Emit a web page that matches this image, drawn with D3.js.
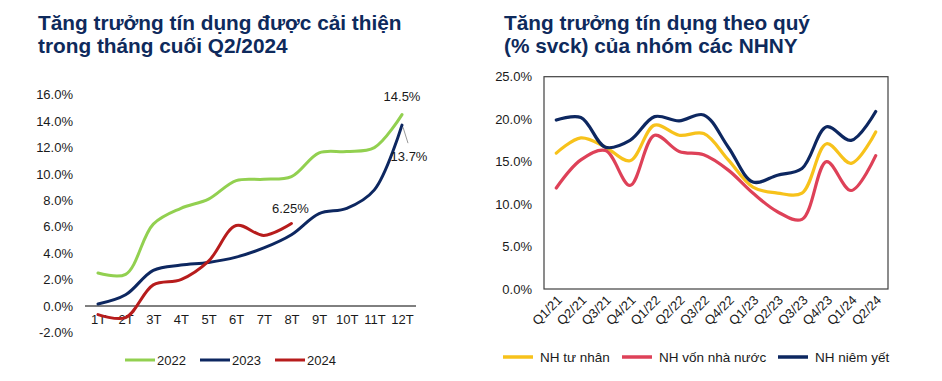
<!DOCTYPE html>
<html><head><meta charset="utf-8">
<script src="https://cdn.jsdelivr.net/npm/d3@7"></script>
<style>
body{margin:0;background:#fff;}
svg{display:block;font-family:"Liberation Sans",Arial,sans-serif;}
</style></head>
<body>
<svg id="c" width="942" height="381"></svg>
<script>
// Left chart data
const months = ["1T","2T","3T","4T","5T","6T","7T","8T","9T","10T","11T","12T"];
const leftTicks = [-2,0,2,4,6,8,10,12,14,16];
const s2022 = [2.5,2.4,6.2,7.4,8.1,9.5,9.6,9.8,11.6,11.7,12.0,14.5];
const s2023 = [0.15,0.85,2.7,3.1,3.3,3.7,4.4,5.4,7.0,7.4,8.8,13.7];
const s2024 = [-0.65,-0.88,1.6,2.0,3.4,6.1,5.35,6.25];
const leftSeries = [
  {name:"2022", values:s2022, color:"#92D050"},
  {name:"2023", values:s2023, color:"#0D2760"},
  {name:"2024", values:s2024, color:"#B71C1C"}
];
// Right chart data
const quarters = ["Q1/21","Q2/21","Q3/21","Q4/21","Q1/22","Q2/22","Q3/22","Q4/22","Q1/23","Q2/23","Q3/23","Q4/23","Q1/24","Q2/24"];
const rightTicks = [0,5,10,15,20,25];
const tuNhan = [16.0,17.8,16.7,15.1,19.3,18.1,18.3,15.2,12.0,11.3,11.3,17.1,14.8,18.5];
const vonNhaNuoc = [11.9,15.2,16.3,12.2,18.1,16.2,15.8,14.0,11.3,9.1,8.2,15.0,11.6,15.7];
const niemYet = [19.9,20.2,16.7,17.5,20.3,19.8,20.5,16.7,12.6,13.4,14.2,19.1,17.5,20.9];
const rightSeries = [
  {name:"NH tư nhân", values:tuNhan, color:"#F7C21B"},
  {name:"NH vốn nhà nước", values:vonNhaNuoc, color:"#DE4158"},
  {name:"NH niêm yết", values:niemYet, color:"#0D2760"}
];

const svg = d3.select("#c");
const titleColor = "#0E2A5C";
const textColor = "#1a1a1a";

// Titles
function title(x, lines){
  const t = svg.append("text").attr("x",x).attr("y",30)
    .attr("font-size",20.8).attr("font-weight","bold").attr("fill",titleColor);
  lines.forEach((l,i)=>t.append("tspan").attr("x",x).attr("dy",i?22.5:0).text(l));
}
title(38,["Tăng trưởng tín dụng được cải thiện","trong tháng cuối Q2/2024"]);
title(504,["Tăng trưởng tín dụng theo quý","(% svck) của nhóm các NHNY"]);

// ---- Left chart
const xL = d3.scalePoint().domain(months).range([98,402]);
const yL = d3.scaleLinear().domain([-2,16]).range([332.4,94.8]);
const gL = svg.append("g");
const axL = d3.axisLeft(yL).tickValues(leftTicks).tickSize(0).tickPadding(0)
  .tickFormat(d=>d.toFixed(1)+"%");
const ay = gL.append("g").attr("transform","translate(73,0)").call(axL);
ay.select(".domain").remove();
ay.selectAll("text").attr("font-size",13).attr("fill",textColor).attr("font-family","Liberation Sans, Arial, sans-serif");
gL.append("line").attr("x1",85).attr("x2",416).attr("y1",yL(0)).attr("y2",yL(0))
  .attr("stroke","#000").attr("stroke-width",1);
const axLx = d3.axisBottom(xL).tickSize(0).tickPadding(0);
const ax = gL.append("g").attr("transform","translate(0,315)").call(axLx);
ax.select(".domain").remove();
ax.selectAll("text").attr("font-size",13).attr("fill",textColor).attr("font-family","Liberation Sans, Arial, sans-serif");

const lineL = d3.line().x((d,i)=>xL(months[i])).y(d=>yL(d)).curve(d3.curveCatmullRom.alpha(0.5));
leftSeries.forEach(s=>{
  gL.append("path").attr("d",lineL(s.values)).attr("fill","none")
    .attr("stroke",s.color).attr("stroke-width",3).attr("stroke-linecap","round");
});
// data labels
gL.append("text").attr("x",xL("12T")).attr("y",yL(14.5)-14).attr("text-anchor","middle")
  .attr("font-size",13).attr("fill",textColor).text("14.5%");
gL.append("line").attr("x1",xL("12T")+1).attr("y1",yL(13.7)+2).attr("x2",xL("12T")+6).attr("y2",yL(13.7)+18)
  .attr("stroke","#999").attr("stroke-width",1);
gL.append("text").attr("x",xL("12T")+7).attr("y",yL(13.7)+36).attr("text-anchor","middle")
  .attr("font-size",13).attr("fill",textColor).text("13.7%");
gL.append("text").attr("x",xL("8T")-1).attr("y",yL(6.25)-11).attr("text-anchor","middle")
  .attr("font-size",13).attr("fill",textColor).text("6.25%");

// left legend
const legL = gL.append("g").attr("transform","translate(125,360)");
leftSeries.forEach((s,i)=>{
  const g = legL.append("g").attr("transform",`translate(${i*75},0)`);
  g.append("line").attr("x1",0).attr("x2",30).attr("stroke",s.color).attr("stroke-width",3);
  g.append("text").attr("x",32).attr("y",4.5).attr("font-size",13).attr("fill",textColor).text(s.name);
});

// ---- Right chart
const xR = d3.scalePoint().domain(quarters).range([544,888]).padding(0.5);
const yR = d3.scaleLinear().domain([0,25]).range([289,76.7]);
const gR = svg.append("g");
gR.append("rect").attr("x",544).attr("y",yR(25)).attr("width",344).attr("height",yR(0)-yR(25))
  .attr("fill","none").attr("stroke","#404040").attr("stroke-width",1.2);
const ayR = gR.append("g").attr("transform","translate(532,0)")
  .call(d3.axisLeft(yR).tickValues(rightTicks).tickSize(0).tickPadding(0).tickFormat(d=>d.toFixed(1)+"%"));
ayR.select(".domain").remove();
ayR.selectAll("text").attr("font-size",13).attr("fill",textColor).attr("font-family","Liberation Sans, Arial, sans-serif");
const axR = gR.append("g").attr("transform","translate(0,289)")
  .call(d3.axisBottom(xR).tickSize(0).tickPadding(0));
axR.select(".domain").remove();
axR.selectAll("text").attr("font-size",13).attr("fill",textColor).attr("font-family","Liberation Sans, Arial, sans-serif")
  .attr("text-anchor","end").attr("dy",0).attr("y",0)
  .attr("transform","translate(6,12) rotate(-45)");

const lineR = d3.line().x((d,i)=>xR(quarters[i])).y(d=>yR(d)).curve(d3.curveCatmullRom.alpha(0.5));
rightSeries.forEach(s=>{
  gR.append("path").attr("d",lineR(s.values)).attr("fill","none")
    .attr("stroke",s.color).attr("stroke-width",3.2).attr("stroke-linecap","round");
});
// right legend
const legPos = [503,622,778];
rightSeries.forEach((s,i)=>{
  const g = gR.append("g").attr("transform",`translate(${legPos[i]},357)`);
  g.append("line").attr("x1",0).attr("x2",30).attr("stroke",s.color).attr("stroke-width",3.5);
  g.append("text").attr("x",37).attr("y",5).attr("font-size",13.5).attr("fill",textColor).text(s.name);
});
</script>
</body></html>
